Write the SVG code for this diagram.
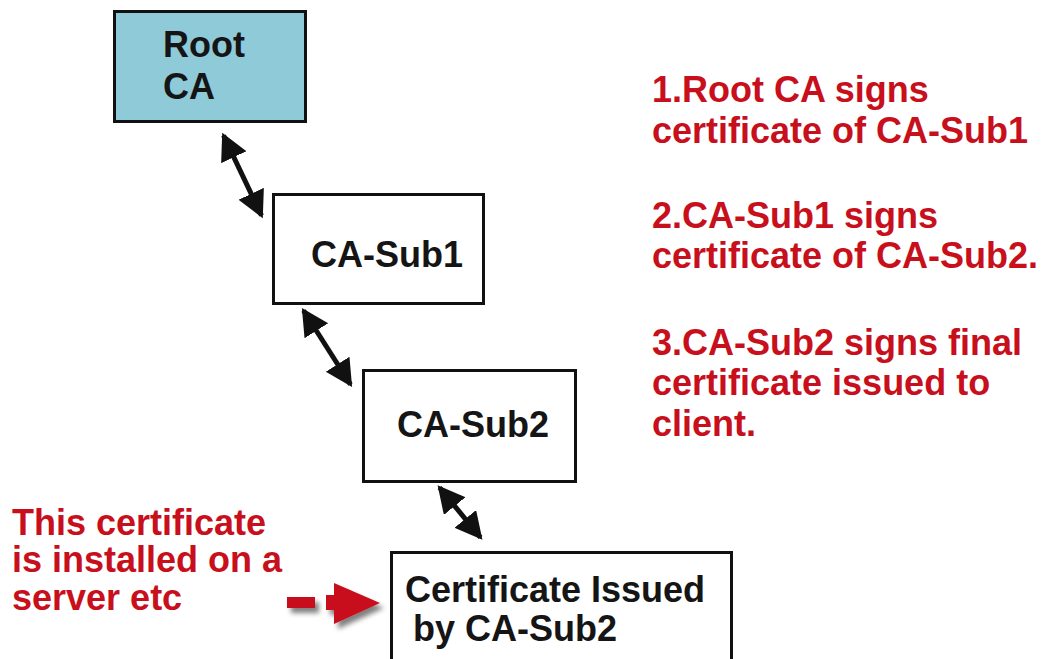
<svg xmlns="http://www.w3.org/2000/svg" width="1043" height="659" viewBox="0 0 1043 659">
  <style>
    .box { fill: #ffffff; stroke: #111111; stroke-width: 3; }
    .root { fill: #8fcad9; }
    .lbl { font-family: "Liberation Sans", Arial, sans-serif; font-weight: bold; font-size: 36px; fill: #151515; }
    .note { font-family: "Liberation Sans", Arial, sans-serif; font-weight: bold; font-size: 36px; fill: #c80f1c; }
    .conn { stroke: #111111; stroke-width: 5; fill: none; marker-start: url(#head); marker-end: url(#head); }
  </style>
  <defs>
    <marker id="head" markerUnits="userSpaceOnUse" markerWidth="30" markerHeight="30" refX="24" refY="14" orient="auto-start-reverse">
      <path d="M0,0 L27,14 L0,28 z" fill="#111111"/>
    </marker>
    <filter id="shadow" x="-30%" y="-30%" width="160%" height="180%">
      <feGaussianBlur in="SourceAlpha" stdDeviation="2.5"/>
      <feOffset dx="4" dy="5" result="b"/>
      <feComponentTransfer><feFuncA type="linear" slope="0.5"/></feComponentTransfer>
      <feMerge><feMergeNode/><feMergeNode in="SourceGraphic"/></feMerge>
    </filter>
  </defs>
  <rect width="1043" height="659" fill="#ffffff"/>

  <g id="connectors">
    <line class="conn" x1="223.5" y1="135.5" x2="261.5" y2="215.5"/>
    <line class="conn" x1="303.5" y1="310.5" x2="350.5" y2="384.5"/>
    <line class="conn" x1="439.5" y1="487.5" x2="480.5" y2="537.5"/>
    <g id="pointer" filter="url(#shadow)" fill="#c80f1c">
      <rect x="287" y="597" width="28" height="11"/>
      <rect x="326" y="595" width="14" height="15"/>
      <polygon points="334,583 380,603 334,624"/>
    </g>
  </g>

  <g id="root-ca">
    <rect class="box root" x="114.5" y="11.5" width="191" height="110"/>
    <text class="lbl" x="163" y="57">Root</text>
    <text class="lbl" x="163" y="99">CA</text>
  </g>

  <g id="ca-sub1">
    <rect class="box" x="273.5" y="194.5" width="210" height="109"/>
    <text class="lbl" x="311" y="267">CA-Sub1</text>
  </g>

  <g id="ca-sub2">
    <rect class="box" x="363.5" y="370.5" width="212" height="111"/>
    <text class="lbl" x="397" y="437">CA-Sub2</text>
  </g>

  <g id="issued-cert">
    <rect class="box" x="391.5" y="552.5" width="340" height="130"/>
    <text class="lbl" x="405" y="602">Certificate Issued</text>
    <text class="lbl" x="413" y="641">by CA-Sub2</text>
  </g>

  <g id="notes">
    <text class="note" x="652" y="102">1.Root CA signs</text>
    <text class="note" x="652" y="143">certificate of CA-Sub1</text>
    <text class="note" x="652" y="228">2.CA-Sub1 signs</text>
    <text class="note" x="652" y="268">certificate of CA-Sub2.</text>
    <text class="note" x="652" y="355">3.CA-Sub2 signs final</text>
    <text class="note" x="652" y="395">certificate issued to</text>
    <text class="note" x="652" y="436">client.</text>
  </g>

  <g id="server-note">
    <text class="note" x="12" y="535">This certificate</text>
    <text class="note" x="12" y="572">is installed on a</text>
    <text class="note" x="12" y="610">server etc</text>
  </g>
</svg>
